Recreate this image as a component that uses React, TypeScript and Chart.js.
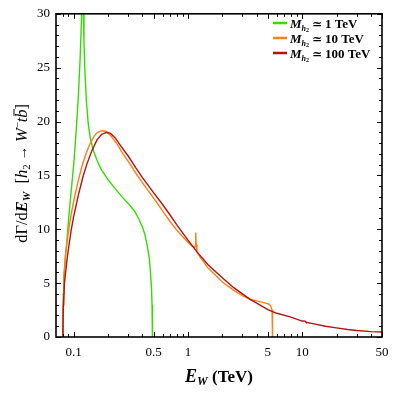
import React, { useEffect, useRef } from "react";
import { Chart, registerables } from "chart.js";
Chart.register(...registerables);

// ---- data (E_W in TeV, dΓ/dE_W) ----
const greenE = [0.0804, 0.0806, 0.081, 0.082, 0.084, 0.087, 0.09, 0.095, 0.1, 0.105, 0.11, 0.114, 0.117, 0.119, 0.121, 0.123, 0.125, 0.129, 0.134, 0.14, 0.15, 0.16, 0.175, 0.2, 0.23, 0.26, 0.3, 0.34, 0.37, 0.4, 0.42, 0.44, 0.46, 0.47, 0.48, 0.485, 0.488, 0.49];
const greenY = [0, 2, 4, 5.5, 7, 8.8, 10.8, 13.5, 16, 19, 22.5, 26, 29.5, 34, 31, 27.5, 25, 22, 19.8, 18.4, 17.2, 16.4, 15.5, 14.6, 13.8, 13.1, 12.4, 11.7, 11.0, 10.2, 9.5, 8.5, 7.2, 6.0, 4.5, 3.0, 1.5, 0];

const orangeE = [0.0804, 0.0808, 0.082, 0.085, 0.09, 0.095, 0.1, 0.11, 0.12, 0.13, 0.14, 0.15, 0.16, 0.175, 0.19, 0.21, 0.24, 0.27, 0.3, 0.35, 0.4, 0.5, 0.6, 0.7, 0.8, 0.9, 1.0, 1.08, 1.14, 1.16, 1.17, 1.18, 1.2, 1.3, 1.5, 1.75, 2.0, 2.5, 3.0, 3.5, 4.0, 4.5, 5.0, 5.3, 5.45, 5.5];
const orangeY = [0, 3, 5.5, 7.8, 9.8, 11.4, 12.6, 14.6, 16.1, 17.2, 18.0, 18.6, 18.95, 19.15, 19.1, 18.7, 17.9, 17.0, 16.3, 15.2, 14.3, 12.9, 11.7, 10.7, 9.9, 9.3, 8.8, 8.45, 8.3, 8.5, 9.7, 8.6, 7.9, 7.3, 6.4, 5.7, 5.1, 4.35, 3.85, 3.5, 3.35, 3.22, 3.1, 2.9, 2.5, 0];

const redE = [0.0804, 0.081, 0.083, 0.087, 0.09, 0.095, 0.1, 0.11, 0.12, 0.13, 0.143, 0.16, 0.175, 0.195, 0.21, 0.23, 0.26, 0.3, 0.35, 0.4, 0.5, 0.6, 0.7, 0.8, 1.0, 1.2, 1.5, 2.0, 2.5, 3.0, 3.5, 4.0, 5.0, 6.0, 7.85, 10, 10.6, 10.8, 13, 16, 20, 25, 30, 40, 50];
const redY = [0, 2.5, 5, 7, 8.2, 9.9, 11.2, 13.2, 14.8, 16.0, 17.2, 18.3, 18.8, 19.0, 18.9, 18.5, 17.7, 16.8, 15.7, 14.8, 13.4, 12.3, 11.3, 10.4, 9.0, 7.9, 6.7, 5.5, 4.6, 4.0, 3.5, 3.15, 2.55, 2.2, 1.87, 1.48, 1.47, 1.38, 1.2, 1.0, 0.85, 0.7, 0.6, 0.5, 0.46];

const seriesColors = ["#33dd00", "#ff7f1a", "#b81111"];
const legendLabels = ["1 TeV", "10 TeV", "100 TeV"];
const xMajorTicks = [0.1, 0.5, 1, 5, 10, 50];
const xMinorTicks = [0.08, 0.09, 0.2, 0.3, 0.4, 0.6, 0.7, 0.8, 0.9, 2, 3, 4, 6, 7, 8, 9, 20, 30, 40];
const yMajorTicks = [0, 5, 10, 15, 20, 25, 30];

const SERIF = '"Liberation Serif", "DejaVu Serif", serif';

type Seg = { t: string; font: string; dy?: number; over?: number };

function richWidth(ctx: CanvasRenderingContext2D, segs: Seg[]) {
  let w = 0;
  for (const s of segs) {
    ctx.font = s.font;
    w += ctx.measureText(s.t).width;
  }
  return w;
}
function drawRich(ctx: CanvasRenderingContext2D, segs: Seg[], x: number, y: number) {
  let cx = x;
  for (const s of segs) {
    ctx.font = s.font;
    const w = ctx.measureText(s.t).width;
    ctx.fillText(s.t, cx, y + (s.dy || 0));
    if (s.over) {
      ctx.save();
      ctx.lineWidth = 1;
      ctx.beginPath();
      ctx.moveTo(cx + 2, y - s.over);
      ctx.lineTo(cx + w + 0.5, y - s.over);
      ctx.stroke();
      ctx.restore();
    }
    cx += w;
  }
}

const decorPlugin = {
  id: "decor",
  afterDraw(chart: any) {
    const ctx: CanvasRenderingContext2D = chart.ctx;
    const { left, right, top, bottom } = chart.chartArea;
    const xs = chart.scales.x;
    const ys = chart.scales.y;
    ctx.save();
    ctx.strokeStyle = "#000";
    ctx.fillStyle = "#000";
    // frame
    ctx.lineWidth = 1.6;
    ctx.strokeRect(left, top, right - left, bottom - top);
    // ticks
    ctx.lineWidth = 1;
    const xt = (v: number, len: number) => {
      const px = Math.round(xs.getPixelForValue(v)) + 0.5;
      ctx.beginPath();
      ctx.moveTo(px, bottom);
      ctx.lineTo(px, bottom - len);
      ctx.moveTo(px, top);
      ctx.lineTo(px, top + len);
      ctx.stroke();
    };
    xMajorTicks.forEach((v) => xt(v, 5));
    xMinorTicks.forEach((v) => xt(v, 3));
    const yt = (v: number, len: number) => {
      const py = Math.round(ys.getPixelForValue(v)) + 0.5;
      ctx.beginPath();
      ctx.moveTo(left, py);
      ctx.lineTo(left + len, py);
      ctx.moveTo(right, py);
      ctx.lineTo(right - len, py);
      ctx.stroke();
    };
    for (let v = 0; v <= 30; v++) {
      yt(v, yMajorTicks.includes(v) ? 5 : 3);
    }
    // legend
    ctx.textBaseline = "alphabetic";
    legendLabels.forEach((lab, i) => {
      const y = 23 + i * 15;
      ctx.strokeStyle = seriesColors[i];
      ctx.lineWidth = 2.5;
      ctx.beginPath();
      ctx.moveTo(273, y);
      ctx.lineTo(287, y);
      ctx.stroke();
      drawRich(
        ctx,
        [
          { t: "M", font: `italic bold 13px ${SERIF}` },
          { t: "h", font: `italic bold 8px ${SERIF}`, dy: 3 },
          { t: "2", font: `bold 6px ${SERIF}`, dy: 4.5 },
          { t: " \u2243 ", font: `bold 12px ${SERIF}` },
          { t: lab, font: `bold 13px ${SERIF}` },
        ],
        290,
        y + 4.5
      );
    });
    // x title
    const xSegs: Seg[] = [
      { t: "E", font: `italic bold 18px ${SERIF}` },
      { t: "W", font: `italic bold 12px ${SERIF}`, dy: 3 },
      { t: " (TeV)", font: `bold 17px ${SERIF}` },
    ];
    const xw = richWidth(ctx, xSegs);
    drawRich(ctx, xSegs, (left + right) / 2 - xw / 2, 382);
    // y title
    const F = 16.5;
    const ySegs: Seg[] = [
      { t: "d\u0393/d", font: `${F}px ${SERIF}` },
      { t: "E", font: `italic bold ${F}px ${SERIF}` },
      { t: "W", font: `italic bold ${F * 0.65}px ${SERIF}`, dy: 3 },
      { t: "  [", font: `${F}px ${SERIF}` },
      { t: "h", font: `italic ${F}px ${SERIF}` },
      { t: "2", font: `${F * 0.65}px ${SERIF}`, dy: 3 },
      { t: " \u2192 ", font: `${F * 0.9}px ${SERIF}` },
      { t: "W", font: `italic ${F}px ${SERIF}` },
      { t: "\u2212", font: `${F * 0.65}px ${SERIF}`, dy: -6 },
      { t: "t", font: `italic ${F}px ${SERIF}` },
      { t: "b", font: `italic ${F}px ${SERIF}`, over: 13 },
      { t: "]", font: `${F}px ${SERIF}` },
    ];
    const yw = richWidth(ctx, ySegs);
    ctx.save();
    ctx.translate(27, (top + bottom) / 2 - 2);
    ctx.rotate(-Math.PI / 2);
    ctx.fillStyle = "#000";
    ctx.strokeStyle = "#000";
    drawRich(ctx, ySegs, -yw / 2, 0);
    ctx.restore();
    ctx.restore();
  },
};

function pts(xa: number[], ya: number[]) {
  return xa.map((x, i) => ({ x, y: ya[i] }));
}

export default function App() {
  const ref = useRef<HTMLCanvasElement | null>(null);
  useEffect(() => {
    if (!ref.current) return;
    const mk = (xa: number[], ya: number[], c: string) => ({
      data: pts(xa, ya),
      borderColor: c,
      backgroundColor: c,
      borderWidth: 1.4,
      pointRadius: 0,
      showLine: true,
      tension: 0,
    });
    const chart = new Chart(ref.current, {
      type: "scatter",
      data: {
        datasets: [
          mk(redE, redY, seriesColors[2]),
          mk(orangeE, orangeY, seriesColors[1]),
          mk(greenE, greenY, seriesColors[0]),
        ],
      },
      options: {
        responsive: false,
        animation: false,
        layout: { padding: { top: 12, right: 17, left: 0, bottom: 0 } },
        plugins: { legend: { display: false }, tooltip: { enabled: false } },
        scales: {
          x: {
            type: "logarithmic",
            min: 0.07,
            max: 50,
            grid: { display: false, drawTicks: false },
            border: { display: false },
            ticks: {
              color: "#000",
              font: { family: SERIF, size: 13 },
              padding: 8,
              autoSkip: false,
              maxRotation: 0,
              callback: (v: any) => (xMajorTicks.includes(Number(v)) ? String(v) : ""),
            },
            afterBuildTicks: (s: any) => {
              s.ticks = xMajorTicks.map((v) => ({ value: v }));
            },
            afterFit: (s: any) => {
              s.height = 62;
            },
          },
          y: {
            min: 0,
            max: 30,
            grid: { display: false, drawTicks: false },
            border: { display: false },
            ticks: {
              color: "#000",
              stepSize: 5,
              font: { family: SERIF, size: 13 },
              padding: 6,
            },
            afterFit: (s: any) => {
              s.width = 56;
            },
          },
        },
      } as any,
      plugins: [decorPlugin],
    });
    return () => chart.destroy();
  }, []);
  return (
    <div style={{ position: "absolute", left: 0, top: 0, width: 399, height: 399, background: "#fff" }}>
      <canvas ref={ref} width={399} height={399} style={{ display: "block" }} />
    </div>
  );
}
